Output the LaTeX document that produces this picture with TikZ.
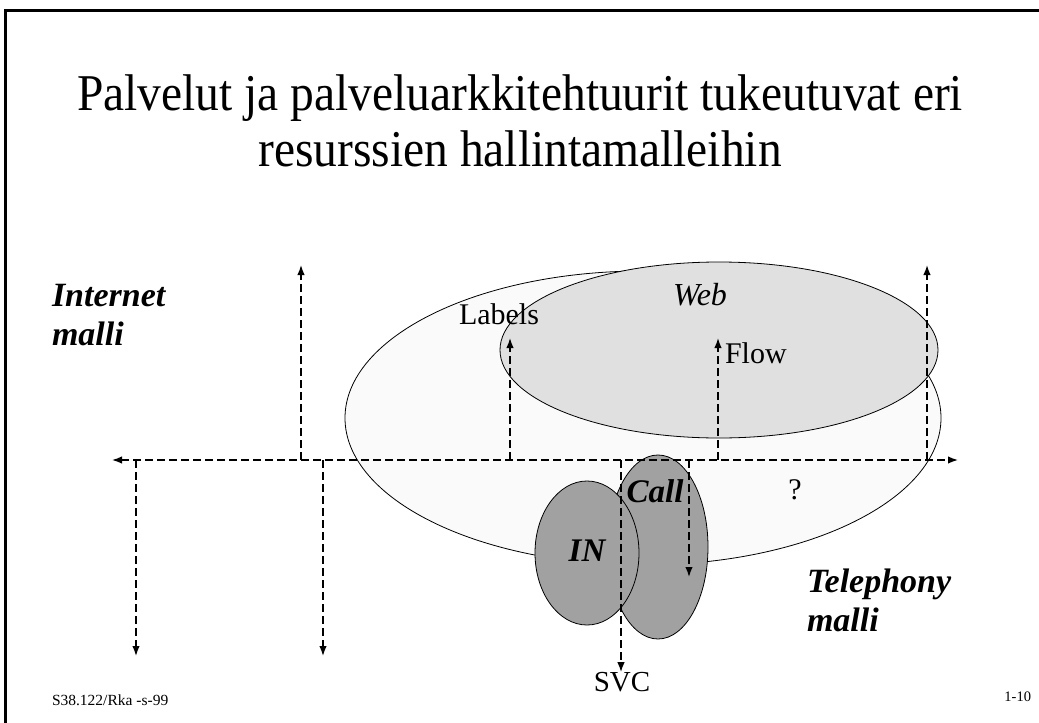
\documentclass[tikz,border=0pt]{standalone}
\usepackage{fontspec}
\setmainfont{Liberation Serif}
\newfontfamily\titlefont{Liberation Serif}[FakeStretch=0.92]
\usetikzlibrary{arrows.meta}

\newcommand{\fs}[1]{\fontsize{#1}{1.15\dimexpr#1pt\relax}\selectfont}

\begin{document}
\begin{tikzpicture}[x=1pt, y=-1pt, >={Latex[length=10pt,width=7.5pt]},
	every node/.style={inner sep=0pt, outer sep=0pt},
	dline/.style={dash pattern=on 8pt off 4pt, line width=1.5pt},
	blob/.style={draw=black, line width=0.8pt},
	tag/.style={font=\fs{30}},
	mtag/.style={font=\fs{34}\bfseries\itshape, align=left, anchor=west}]
	\useasboundingbox (0,0) rectangle (1039,723);
	% frame
	\draw[line width=3pt] (5,723) -- (5,10) -- (1039,10);
	% title
	\node[font=\titlefont\fontsize{51.6}{56}\selectfont, align=center] (title) at (520,121)
		{Palvelut ja palveluarkkitehtuurit tukeutuvat eri\\resurssien hallintamalleihin};
	% ellipses
	\draw[blob, fill=black!2] (643,418) ellipse [x radius=298, y radius=147];
	\draw[blob, fill=black!12] (719,350) ellipse [x radius=219, y radius=88];
	\draw[blob, fill=black!37] (658,547) ellipse [x radius=50, y radius=92];
	\draw[blob, fill=black!37] (587,553) ellipse [x radius=52, y radius=72];
	% labels
	\node[tag] (labels) at (499,314) {Labels};
	\node[tag, font=\fs{32}\itshape] (web) at (700,295) {Web};
	\node[tag, anchor=west] (flow) at (725,353) {Flow};
	\node[tag] (q) at (795,490) {?};
	\node[tag, font=\fs{33}\bfseries\itshape] (call) at (655,491) {Call};
	\node[tag, font=\fs{33}\bfseries\itshape] (in) at (587,551) {IN};
	\node[tag, font=\fs{29}] (svc) at (622,682) {SVC};
	\node[mtag] (inet) at (52,315) {Internet\\malli};
	\node[mtag] (tel) at (807,600) {Telephony\\malli};
	\node[font=\fs{15.5}, anchor=west] (foot) at (52,700) {S38.122/Rka -s-99};
	\node[font=\fs{14.5}, anchor=east] (page) at (1031,697) {1-10};
	% axis points
	\coordinate (axl) at (112,460);
	\coordinate (axr) at (958,460);
	\coordinate (u1) at (301,460);
	\coordinate (u1e) at (301,265);
	\coordinate (u2) at (510,460);
	\coordinate (u2e) at (510,338);
	\coordinate (u3) at (718,460);
	\coordinate (u3e) at (718,338);
	\coordinate (u4) at (927,460);
	\coordinate (u4e) at (927,265);
	\coordinate (d1) at (136,460);
	\coordinate (d1e) at (136,656);
	\coordinate (d2) at (323,460);
	\coordinate (d2e) at (323,656);
	\coordinate (d3) at (621,460);
	\coordinate (d4) at (689,460);
	\coordinate (d4e) at (689,577);
	% arrows
	\draw[dline, <->] (axl) -- (axr);
	\draw[dline, ->] (u1) -- (u1e);
	\draw[dline, ->] (u2) -- (u2e);
	\draw[dline, ->] (u3) -- (u3e);
	\draw[dline, ->] (u4) -- (u4e);
	\draw[dline, ->] (d1) -- (d1e);
	\draw[dline, ->] (d2) -- (d2e);
	\draw[dline, ->] (d3) -- (svc.north -| d3);
	\draw[dline, ->] (d4) -- (d4e);
\end{tikzpicture}
\end{document}
